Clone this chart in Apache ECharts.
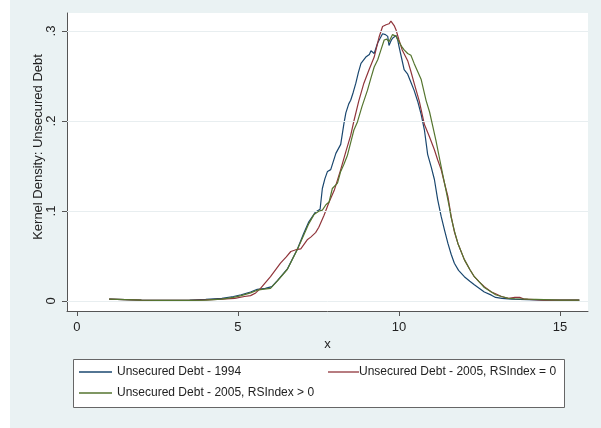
<!DOCTYPE html>
<html>
<head>
<meta charset="utf-8">
<script src="https://cdn.jsdelivr.net/npm/echarts@6/dist/echarts.min.js"></script>
<style>
  html, body { margin: 0; padding: 0; background: #eaf2f3; }
  #chart { width: 601px; height: 428px; }
</style>
</head>
<body>
<div id="chart"></div>
<script>
// Kernel density estimates of unsecured debt (log scale variable x)
const seriesNames = [
  'Unsecured Debt - 1994',
  'Unsecured Debt - 2005, RSIndex = 0',
  'Unsecured Debt - 2005, RSIndex > 0'
];

const x1994 = [1.0, 1.5, 2.0, 2.5, 3.0, 3.5, 4.0, 4.5, 4.86, 5.1, 5.39, 5.6, 5.85, 6.05, 6.23, 6.54, 6.85, 7.04, 7.2, 7.41, 7.55,
  7.62, 7.7, 7.78, 7.88, 8.04, 8.19, 8.29, 8.35, 8.44, 8.5, 8.58, 8.66, 8.74, 8.82, 8.97, 9.08, 9.13, 9.18, 9.23, 9.34, 9.49,
  9.58, 9.65, 9.69, 9.75, 9.8, 9.91, 9.96, 10.0, 10.08, 10.16, 10.27, 10.37, 10.47, 10.58, 10.69, 10.79, 10.89, 11.0, 11.1,
  11.2, 11.31, 11.42, 11.52, 11.62, 11.72, 11.85, 12.03, 12.2, 12.34, 12.5, 12.65, 12.87, 13.0, 13.2, 13.5, 14.0, 14.5, 15.0, 15.6];
const y1994 = [0.002, 0.0015, 0.001, 0.0008, 0.0007, 0.001, 0.0018, 0.003, 0.005, 0.007, 0.010, 0.013, 0.014, 0.016, 0.023, 0.036, 0.058, 0.075, 0.088, 0.099, 0.102,
  0.125, 0.136, 0.144, 0.146, 0.164, 0.174, 0.197, 0.209, 0.219, 0.223, 0.232, 0.242, 0.254, 0.264, 0.271, 0.274, 0.278, 0.279, 0.275, 0.287, 0.297,
  0.296, 0.294, 0.284, 0.289, 0.292, 0.295, 0.29, 0.283, 0.27, 0.257, 0.252, 0.243, 0.234, 0.222, 0.207, 0.19, 0.163, 0.149, 0.135,
  0.113, 0.094, 0.078, 0.064, 0.052, 0.042, 0.034, 0.027, 0.022, 0.018, 0.014, 0.010, 0.0065, 0.004, 0.003, 0.002, 0.0015, 0.001, 0.001, 0.001];

const xRs0 = [1.0, 1.5, 2.0, 2.5, 3.0, 3.5, 4.0, 4.5, 4.9, 5.2, 5.39, 5.55, 5.7, 6.01, 6.32, 6.5, 6.64, 6.8, 6.95, 7.05, 7.15, 7.26,
  7.41, 7.51, 7.67, 7.83, 7.99, 8.19, 8.35, 8.5, 8.6, 8.75, 8.91, 9.07, 9.23, 9.38, 9.49, 9.6, 9.69, 9.75, 9.8, 9.85, 9.91, 10.0,
  10.1, 10.27, 10.37, 10.47, 10.63, 10.79, 10.94, 11.1, 11.2, 11.31, 11.42, 11.52, 11.62, 11.72, 11.83, 12.03, 12.2, 12.34, 12.5,
  12.65, 12.87, 13.0, 13.18, 13.4, 13.6, 13.75, 13.9, 14.2, 14.5, 15.0, 15.6];
const yRs0 = [0.002, 0.0015, 0.001, 0.0008, 0.0007, 0.0008, 0.0012, 0.002, 0.003, 0.005, 0.006, 0.009, 0.014, 0.027, 0.042, 0.049, 0.055, 0.057, 0.058, 0.063, 0.068, 0.071,
  0.076, 0.082, 0.095, 0.110, 0.123, 0.146, 0.166, 0.184, 0.200, 0.222, 0.242, 0.257, 0.271, 0.293, 0.305, 0.307, 0.308, 0.311, 0.310, 0.306, 0.301, 0.29,
  0.279, 0.267, 0.255, 0.242, 0.222, 0.196, 0.183, 0.168, 0.157, 0.146, 0.13, 0.116, 0.094, 0.077, 0.064, 0.046, 0.035, 0.027, 0.021,
  0.016, 0.010, 0.008, 0.005, 0.003, 0.004, 0.004, 0.002, 0.0015, 0.001, 0.001, 0.001];

const xRsPos = [1.0, 1.5, 2.0, 2.5, 3.0, 3.5, 4.0, 4.5, 4.86, 5.1, 5.39, 5.6, 5.75, 6.01, 6.22, 6.53, 6.84, 7.04, 7.2, 7.36, 7.52,
  7.62, 7.73, 7.83, 7.93, 8.09, 8.19, 8.29, 8.4, 8.5, 8.6, 8.71, 8.85, 9.02, 9.13, 9.23, 9.34, 9.44, 9.54, 9.62, 9.69, 9.8, 9.91,
  10.0, 10.08, 10.16, 10.27, 10.37, 10.47, 10.58, 10.69, 10.84, 10.95, 11.05, 11.15, 11.25, 11.35, 11.46, 11.56, 11.62, 11.72,
  11.83, 12.03, 12.2, 12.34, 12.5, 12.65, 12.87, 13.0, 13.18, 13.4, 13.6, 14.0, 14.5, 15.0, 15.6];
const yRsPos = [0.002, 0.0015, 0.001, 0.0008, 0.0006, 0.0006, 0.001, 0.002, 0.004, 0.006, 0.009, 0.012, 0.013, 0.014, 0.022, 0.035, 0.057, 0.073, 0.086, 0.096, 0.100,
  0.101, 0.107, 0.110, 0.125, 0.131, 0.144, 0.152, 0.162, 0.176, 0.19, 0.199, 0.216, 0.234, 0.248, 0.26, 0.268, 0.279, 0.29, 0.291, 0.288, 0.296, 0.294,
  0.288, 0.283, 0.279, 0.275, 0.273, 0.264, 0.255, 0.246, 0.223, 0.21, 0.194, 0.178, 0.160, 0.142, 0.123, 0.105, 0.093, 0.078,
  0.064, 0.046, 0.035, 0.027, 0.021, 0.015, 0.010, 0.007, 0.005, 0.003, 0.0025, 0.002, 0.0015, 0.001, 0.001];

const xTicks = [0, 5, 10, 15];
const yTicks = [0, 0.1, 0.2, 0.3];

const lineColors = ['#1a476f', '#90353b', '#55752f'];
const FONT = 'Liberation Sans, Arial, sans-serif';
const TEXT = '#222';
const AXIS = '#555';

const zip = (xs, ys) => xs.map((x, i) => [x, ys[i]]);
const curves = [zip(x1994, y1994), zip(xRs0, yRs0), zip(xRsPos, yRsPos)];

const chart = echarts.init(document.getElementById('chart'), null, { renderer: 'canvas' });

const legendCommon = {
  orient: 'horizontal',
  padding: 0,
  icon: 'rect',
  itemHeight: 1.3,
  selectedMode: false,
  textStyle: { fontFamily: FONT, fontSize: 12, color: TEXT }
};

chart.setOption({
  animation: false,
  backgroundColor: '#eaf2f3',
  grid: { left: 67, top: 13, width: 521, height: 298, show: true, backgroundColor: '#ffffff', borderWidth: 0 },
  graphic: [
    { type: 'rect', left: 0, top: 0, shape: { width: 10, height: 428 }, style: { fill: '#ffffff' }, z: -1 },
    { type: 'rect', left: 73, top: 359, shape: { width: 491, height: 48 }, style: { fill: '#ffffff', stroke: '#666', lineWidth: 1 }, z: 0 }
  ],
  legend: [
    Object.assign({}, legendCommon, { data: [seriesNames[0]], left: 79, top: 366, itemWidth: 33 }),
    Object.assign({}, legendCommon, { data: [seriesNames[1]], left: 328, top: 366, itemWidth: 31,
      textStyle: Object.assign({}, legendCommon.textStyle, { padding: [0, 0, 0, -5] }) }),
    Object.assign({}, legendCommon, { data: [seriesNames[2]], left: 79, top: 387, itemWidth: 33 })
  ],
  xAxis: {
    type: 'value',
    min: -0.31,
    max: 15.87,
    name: 'x',
    nameLocation: 'middle',
    nameGap: 27,
    nameMoveOverlap: false,
    nameTextStyle: { fontFamily: FONT, fontSize: 13, color: TEXT },
    axisLine: { onZero: false, lineStyle: { color: AXIS, width: 1 } },
    axisTick: { show: true, length: 5, customValues: xTicks, lineStyle: { color: AXIS } },
    axisLabel: { customValues: xTicks, margin: 10, fontFamily: FONT, fontSize: 13, color: TEXT },
    splitLine: { show: false }
  },
  yAxis: {
    type: 'value',
    min: -0.0111,
    max: 0.32,
    name: 'Kernel Density: Unsecured Debt',
    nameLocation: 'middle',
    nameGap: 22,
    nameMoveOverlap: false,
    nameTextStyle: { fontFamily: FONT, fontSize: 13, color: TEXT, padding: [0, 0, 0, 30] },
    axisLine: { show: true, onZero: false, lineStyle: { color: AXIS, width: 1 } },
    axisTick: { show: true, length: 5, customValues: yTicks, lineStyle: { color: AXIS } },
    axisLabel: {
      customValues: yTicks,
      rotate: 90,
      margin: 9,
      fontFamily: FONT, fontSize: 13, color: TEXT,
      formatter: v => (v === 0 ? '0' : String(v).replace(/^0/, ''))
    },
    splitLine: { show: false }
  },
  series: [
    {
      // horizontal gridlines at the labelled y ticks
      name: 'grid',
      type: 'line',
      data: [],
      z: 1,
      silent: true,
      markLine: {
        silent: true,
        symbol: ['none', 'none'],
        label: { show: false },
        lineStyle: { color: '#e8eef0', width: 1, type: 'solid' },
        data: yTicks.map(v => ({ yAxis: v }))
      }
    }
  ].concat(curves.map((d, i) => ({
    name: seriesNames[i],
    type: 'line',
    data: d,
    symbol: 'none',
    z: 3 + i,
    lineStyle: { color: lineColors[i], width: 1.2 },
    itemStyle: { color: lineColors[i] }
  })))
});
</script>
</body>
</html>
